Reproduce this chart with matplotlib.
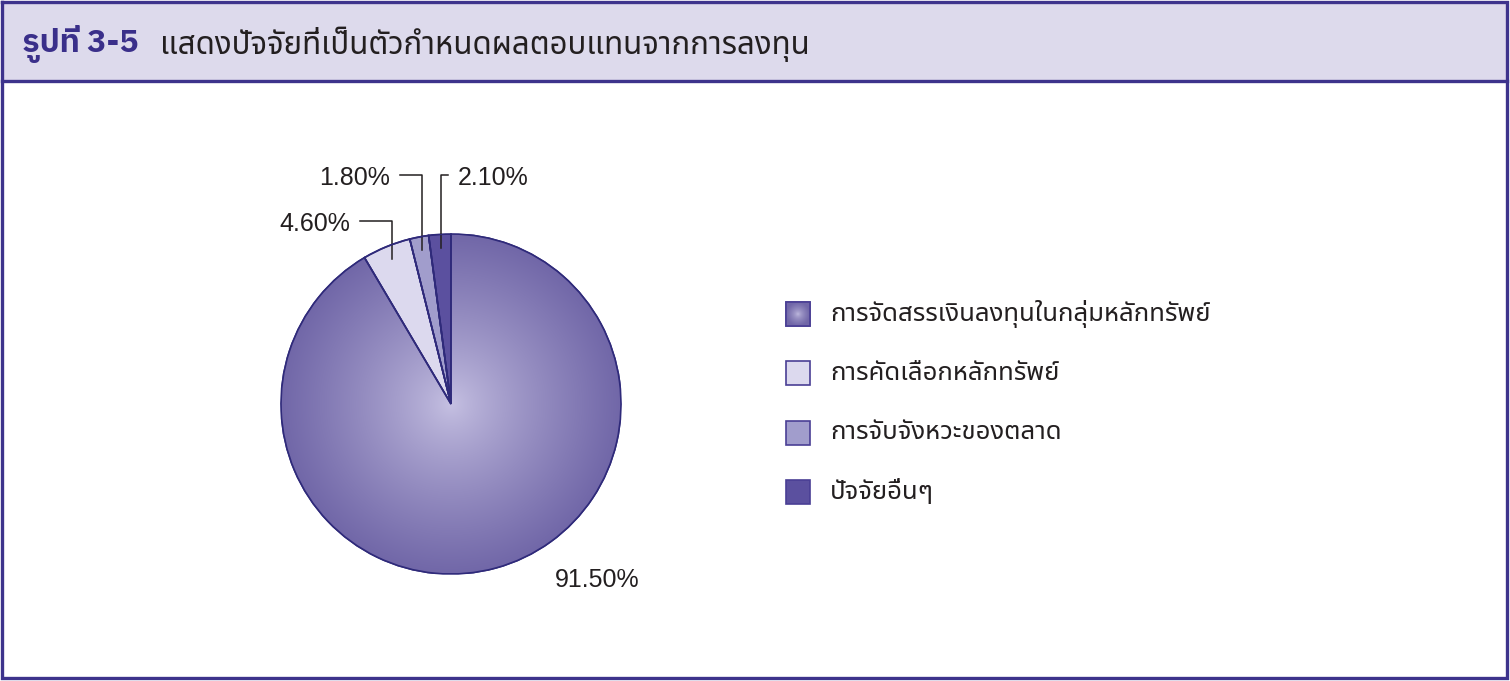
import numpy as np
import matplotlib
matplotlib.use('Agg')
import matplotlib.pyplot as plt
from matplotlib.patches import Rectangle, Wedge

plt.rcParams.update({'font.family': ['Noto Sans Thai', 'DejaVu Sans']})

# data
labels = ['การจัดสรรเงินลงทุนในกลุ่มหลักทรัพย์', 'การคัดเลือกหลักทรัพย์',
          'การจับจังหวะของตลาด', 'ปัจจัยอื่นๆ']
shares = [91.5, 4.6, 1.8, 2.1]
pct_text = ['91.50%', '4.60%', '1.80%', '2.10%']
colors = ['#8d85bf', '#dcd9ee', '#a19dcc', '#5b509f']
title_num = 'รูปที่ 3-5'
title_txt = 'แสดงปัจจัยที่เป็นตัวกำหนดผลตอบแทนจากการลงทุน'

W, H = 1510, 681
frame_c = '#3d338c'
edge_c = '#2f2a7a'
ink = '#231f20'
num_font = ['Liberation Sans', 'DejaVu Sans']
light = np.array(matplotlib.colors.to_rgb('#c7c2e3'))
dark = np.array(matplotlib.colors.to_rgb('#7167a8'))


def radial_shade(n=400, gamma=0.8):
    '''rgb image, light in the middle, darker towards the rim'''
    g = np.linspace(-1, 1, n)
    gx, gy = np.meshgrid(g, g)
    t = np.clip(np.hypot(gx, gy), 0, 1) ** gamma
    return light + (dark - light) * t[..., None]


fig = plt.figure(figsize=(W / 100, H / 100), dpi=100)
# overlay axes in pixel coords: frame, header, legend
bg = fig.add_axes([0, 0, 1, 1])
bg.set_xlim(0, W)
bg.set_ylim(H, 0)
bg.axis('off')
bg.add_patch(Rectangle((2, 2), W - 5, 79, fc='#dddaec', ec='none'))
bg.plot([2, W - 3, W - 3, 2, 2], [2, 2, H - 3, H - 3, 2], color=frame_c,
        lw=2.4, solid_joinstyle='miter')
bg.plot([2, W - 3], [81, 81], color=frame_c, lw=2.4)
bg.text(22, 44, title_num, fontsize=23, fontweight='bold', color='#3a2f8a',
        va='center', ha='left',
        family=['IBM Plex Sans Thai', 'Noto Sans Thai', 'DejaVu Sans'])
bg.text(160, 44, title_txt, fontsize=22.5, color=ink, va='center',
        ha='left')

# legend drawn by hand, one row per slice
for i, (lab, c) in enumerate(zip(labels, colors)):
    y = 314 + i * 59.3
    bg.add_patch(Rectangle((786, y - 12), 24, 24, fc=c, ec='#4a3f95',
                           lw=1.2, zorder=3 if i else 1))
    if i == 0:  # shaded swatch like the big slice
        bg.imshow(radial_shade(60, 0.6), extent=(786, 810, y + 12, y - 12),
                  zorder=2, interpolation='bilinear')
        bg.add_patch(Rectangle((786, y - 12), 24, 24, fill=False,
                               ec='#4a3f95', lw=1.2, zorder=3))
    bg.text(830, y, lab, fontsize=18.5, color=ink, va='center', ha='left')
bg.set_xlim(0, W)
bg.set_ylim(H, 0)

# pie
cx, cy, r = 451, 404, 170
ax = fig.add_axes([(cx - r) / W, (H - cy - r) / H, 2 * r / W, 2 * r / H])
ax.patch.set_visible(False)
wedges, _ = ax.pie(shares, colors=colors, startangle=90, counterclock=False,
                   wedgeprops={'ec': edge_c, 'lw': 1.2})
ax.set_xlim(-1, 1)
ax.set_ylim(-1, 1)
ax.set_aspect('equal')

# radial shading of the large slice
im = ax.imshow(radial_shade(), extent=(-1, 1, -1, 1), origin='lower',
               zorder=1.5, interpolation='bilinear')
im.set_clip_path(wedges[0])
for w in wedges:
    ax.add_patch(Wedge(w.center, w.r, w.theta1, w.theta2, fill=False,
                       ec=edge_c, lw=1.2, zorder=3))

# percentage labels with elbow leaders
lab_pos = {1: (-0.535, 1.076, 'right'), 2: (-0.30, 1.347, 'right'),
           3: (-0.018, 1.347, 'left')}
for i, w in enumerate(wedges):
    if i == 0:
        ax.text(0.86, -1.035, pct_text[i], fontsize=18, family=num_font,
                color=ink, ha='center', va='center', clip_on=False)
        continue
    ang = np.radians((w.theta1 + w.theta2) / 2)
    x0, y0 = 0.92 * np.cos(ang), 0.92 * np.sin(ang)
    hx, hy, ha = lab_pos[i]
    ax.plot([x0, x0, hx], [y0, hy, hy], color=ink, lw=1.1, clip_on=False)
    dx = -0.06 if ha == 'right' else 0.06
    ax.text(hx + dx, hy - 0.02, pct_text[i], fontsize=18, family=num_font,
            color=ink, ha=ha, va='center', clip_on=False)

fig.savefig('out.png')
